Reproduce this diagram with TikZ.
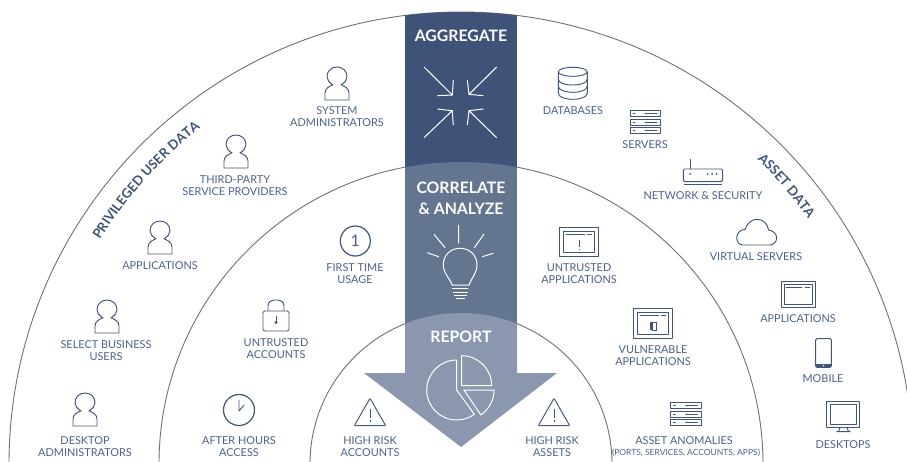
\documentclass[tikz,border=0pt]{standalone}
\usepackage{fontspec}
\setmainfont{Lato}
\usetikzlibrary{decorations.text}
\definecolor{banddark}{HTML}{3F5378}
\definecolor{bandmid}{HTML}{647590}
\definecolor{bandlight}{HTML}{8A97AF}
\definecolor{labelcol}{HTML}{4D6188}
\definecolor{iconcol}{HTML}{41557C}
\definecolor{arccol}{HTML}{707070}
\tikzset{
  x=1pt,y=-1pt,
  lab/.style={font=\fontsize{10.9}{12}\selectfont,text=labelcol,align=center,inner sep=0pt,anchor=center},
  smalllab/.style={font=\fontsize{8.5}{9}\selectfont,text=labelcol,inner sep=0pt,anchor=center},
  head/.style={font=\fontsize{15.8}{21}\selectfont\bfseries,text=white,align=center,inner sep=0pt,anchor=center},
  ring/.style={draw=arccol,line width=0.9pt},
  ic/.style={draw=iconcol,line width=0.95pt,line join=round},
  icthin/.style={draw=iconcol,line width=0.8pt,line cap=round},
  wl/.style={draw=white,line width=1pt,line join=miter},
  personicon/.pic={
    \draw[ic] (-12,33) -- (12,33) -- (12,26) .. controls (12,21) and (7,19) .. (4,17.8)
      .. controls (8,15.5) and (10,13) .. (10,9.5) .. controls (10,4) and (5.5,0) .. (0,0)
      .. controls (-5.5,0) and (-10,4) .. (-10,9.5) .. controls (-10,13) and (-8,15.5) .. (-4,17.8)
      .. controls (-7,19) and (-12,21) .. (-12,26) -- cycle;
  },
  serverrow/.pic={
    \draw[ic] (0,0) rectangle (30.5,6);
    \draw[icthin] (3,3) -- (5,3) (15,3) -- (27,3);
  },
  serversicon/.pic={
    \pic at (0,0) {serverrow};
    \pic at (0,8.3) {serverrow};
    \pic at (0,16.6) {serverrow};
  },
  warnicon/.pic={
    \draw[ic,rounded corners=0.8pt] (0,0) -- (15.7,27.4) -- (-15.7,27.4) -- cycle;
    \draw[draw=iconcol,line width=1pt] (0,11) -- (0,20) (0,21.8) -- (0,23.4);
  },
}
\begin{document}
\begin{tikzpicture}
\useasboundingbox (0,0) rectangle (907,461);
\coordinate (c) at (461,464);
\begin{scope}
  \clip (0,0) rectangle (907,461);
  \draw[ring] (c) circle[radius=452pt];
  \draw[ring] (c) circle[radius=302pt];
  \draw[ring] (c) circle[radius=151pt];
  \begin{scope}
    \clip (c) circle[radius=452pt];
    \fill[banddark] (405,0) rectangle (517,200);
  \end{scope}
  \begin{scope}
    \clip (c) circle[radius=302pt];
    \fill[bandmid] (405,100) rectangle (517,373);
  \end{scope}
  \begin{scope}
    \clip (c) circle[radius=151pt];
    \fill[bandlight] (405,300) -- (517,300) -- (517,373) -- (557,373) -- (461,447) -- (364,373) -- (405,373) -- cycle;
  \end{scope}
\end{scope}

% headings
\node[head] (agg) at (461,36) {AGGREGATE};
\node[head] (cor) at (461,198.5) {CORRELATE\\\& ANALYZE};
\node[head] (rep) at (461,337) {REPORT};

% aggregate arrows
\draw[wl] (424,67) -- (452.3,95) (453.3,80) -- (452.3,95) -- (437.3,95.7);
\draw[wl] (496.7,67) -- (469,94.3) (467.3,80) -- (469,94.3) -- (483.3,95.7);
\draw[wl] (424,137.7) -- (452.3,110.7) (437.3,109) -- (452.3,110.7) -- (453.3,125);
\draw[wl] (496.7,137.7) -- (469,110.7) (483.3,109) -- (469,110.7) -- (467.3,125);

% bulb
\draw[wl] (458.7,225) -- (458.7,243) (434,234.3) -- (445,247.7) (427.3,252.7) -- (438.7,256.7) (484,234) -- (474.3,247.7) (493.3,253.3) -- (482.3,256.7);
\draw[wl] (452.3,285) .. controls (450,279) and (443.3,273) .. (443.3,265) .. controls (443.3,255) and (450.5,248.3) .. (460,248.3) .. controls (469.5,248.3) and (477,255) .. (477,265) .. controls (477,273) and (471,279) .. (469,285) -- cycle;
\draw[wl] (452.3,288.3) -- (468.3,288.3) (453.3,292) -- (468.3,292) (454.3,295.3) -- (466.7,295.3) (455.7,298.3) -- (465,298.3);

% pie
\coordinate (p1) at (456.7,390);
\coordinate (p2) at (461.7,385.7);
\coordinate (p3) at (464,390);
\draw[wl] (p1) -- ++(90:30pt) arc[start angle=90,end angle=306,radius=30pt] -- cycle;
\draw[wl] (p2) -- ++(90:30pt) arc[start angle=90,end angle=0,radius=30pt] -- cycle;
\draw[wl] (p3) -- ++(0:30pt) arc[start angle=0,end angle=-56,radius=30pt] -- cycle;

% curved titles
\path[decorate,decoration={text along path,text align=center,
  text={|\fontsize{13.2}{14}\selectfont\bfseries\color{banddark}|PRIVILEGED USER DATA}}]
  (c) ++(162:425pt) arc[start angle=162,end angle=114,radius=425pt];
\path[decorate,decoration={text along path,text align=center,
  text={|\fontsize{13.2}{14}\selectfont\bfseries\color{banddark}|ASSET DATA}}]
  (c) ++(60:425pt) arc[start angle=60,end angle=21,radius=425pt];

% persons
\pic at (85,393) {personicon};
\pic at (107,300) {personicon};
\pic at (160,221) {personicon};
\pic at (236,135) {personicon};
\pic at (337,67) {personicon};

% labels, left
\node[lab] (l1) at (337,116.7) {SYSTEM\\ADMINISTRATORS};
\node[lab] (l2) at (235,185.7) {THIRD-PARTY\\SERVICE PROVIDERS};
\node[lab] (l3) at (160,265.7) {APPLICATIONS};
\node[lab] (l4) at (106,350.7) {SELECT BUSINESS\\USERS};
\node[lab] (l5) at (85,446.7) {DESKTOP\\ADMINISTRATORS};
\node[lab] (l6) at (355,273.7) {FIRST TIME\\USAGE};
\node[lab] (l7) at (276,348.7) {UNTRUSTED\\ACCOUNTS};
\node[lab] (l8) at (239,446.7) {AFTER HOURS\\ACCESS};
\node[lab] (l9) at (370,446.7) {HIGH RISK\\ACCOUNTS};
\node[lab] (l10) at (552,446.7) {HIGH RISK\\ASSETS};
% labels, right
\node[lab] (r1) at (579,273.7) {UNTRUSTED\\APPLICATIONS};
\node[lab] (r2) at (653,355.7) {VULNERABLE\\APPLICATIONS};
\node[lab] (r3) at (684,440.7) {ASSET ANOMALIES};
\node[smalllab] (r4) at (686,453) {(PORTS, SERVICES, ACCOUNTS, APPS)};
\node[lab] (r5) at (573,110.7) {DATABASES};
\node[lab] (r6) at (645,144.7) {SERVERS};
\node[lab] (r7) at (703,195.7) {NETWORK \& SECURITY};
\node[lab] (r8) at (756,256.7) {VIRTUAL SERVERS};
\node[lab] (r9) at (798,318.7) {APPLICATIONS};
\node[lab] (r10) at (823,378.7) {MOBILE};
\node[lab] (r11) at (843,444.7) {DESKTOPS};

% circled one
\node[circle,draw=iconcol,line width=1.2pt,minimum size=30pt,inner sep=0pt,text=labelcol,font=\fontsize{16}{16}\selectfont] (one) at (355.3,241) {1};
% clock
\node[circle,draw=iconcol,line width=1.2pt,minimum size=31pt,inner sep=0pt] (clock) at (239,410) {};
\draw[ic] (239,400) -- (239,411) -- (244,405);
% lock
\draw[ic,rounded corners=1.5pt] (263,311) rectangle (289,331);
\draw[ic] (268,311) -- (268,306) .. controls (268,302) and (271,300) .. (274,300) -- (278,300) .. controls (281,300) and (284,302) .. (284,306) -- (284,311);
\fill[iconcol] (276,322.5) circle[radius=1.6pt];
\draw[ic] (276,316) -- (276,322);
% warnings
\pic at (370,398.3) {warnicon};
\pic at (554,398.3) {warnicon};
% untrusted app window
\draw[ic] (559,227) rectangle (598,256);
\draw[ic] (563.5,231.5) rectangle (594,252.5);
\draw[icthin] (566,234.5) -- (585,234.5) (587.5,234.5) -- (592,234.5);
\draw[draw=iconcol,line width=1pt] (579,240) -- (579,247) (579,248.5) -- (579,250);
% vulnerable app window
\draw[ic] (633.3,308.7) rectangle (672.3,338);
\draw[ic] (637.7,312.7) rectangle (668.7,334.7);
\draw[icthin] (640,315.5) -- (659,315.5) (661.5,315.5) -- (666,315.5);
\fill[iconcol] (650,322) rectangle (652.5,330);
\draw[draw=iconcol,line width=0.7pt] (652.5,322) rectangle (656,330);
% asset application window
\draw[ic] (781,281.3) rectangle (815.3,307.3);
\draw[ic] (784.2,284.5) rectangle (812.3,304.3);
\draw[icthin] (786,287) -- (802,287) (805,287) -- (810,287);
% mobile
\draw[ic,rounded corners=1.2pt] (815.7,338.7) rectangle (831.3,367.3);
\fill[iconcol] (815.7,364) rectangle (831.3,367.3);
\fill[white] (823.5,365.7) circle[radius=0.8pt];
% desktop
\draw[ic] (826.7,401.7) rectangle (859.7,427.3);
\draw[ic] (830,404.7) rectangle (856.7,424.3);
\draw[ic] (840,427.3) -- (838.5,431.7) (847,427.3) -- (848.5,431.7) (836.3,431.7) -- (850.5,431.7);
% servers
\pic at (630,110.7) {serversicon};
\pic at (670.5,402.7) {serversicon};
% database
\draw[ic] (572.8,71.8) ellipse[x radius=14.5pt,y radius=4.5pt];
\draw[ic] (558.3,72) -- (558.3,93) .. controls (558.3,97) and (565,99.3) .. (572.8,99.3) .. controls (580.6,99.3) and (587.3,97) .. (587.3,93) -- (587.3,72);
\draw[ic] (558.3,79) .. controls (558.3,83) and (565,85) .. (572.8,85) .. controls (580.6,85) and (587.3,83) .. (587.3,79);
\draw[ic] (558.3,86) .. controls (558.3,90) and (565,92.3) .. (572.8,92.3) .. controls (580.6,92.3) and (587.3,90) .. (587.3,86);
% router
\draw[ic,rounded corners=1.5pt] (683.3,169) rectangle (722.7,181.7);
\draw[draw=iconcol,line width=1.3pt] (684,184.3) -- (722.3,184.3);
\draw[draw=iconcol,line width=1pt] (690,159) -- (690,169);
\fill[iconcol] (690,174) circle[radius=1pt] (707.7,174) circle[radius=1pt] (712,174) circle[radius=1pt] (716.7,174) circle[radius=1pt];
% cloud
\draw[ic] (743,245) .. controls (739,245) and (736.7,241) .. (736.7,238) .. controls (736.7,233) and (741,229) .. (745,229.5) .. controls (747,223) and (752,219.3) .. (757,219.3) .. controls (763,219.3) and (768,224) .. (768.5,230) .. controls (773,230.5) and (776.7,234) .. (776.7,238) .. controls (776.7,242) and (773,245) .. (770,245) -- cycle;
\end{tikzpicture}
\end{document}
